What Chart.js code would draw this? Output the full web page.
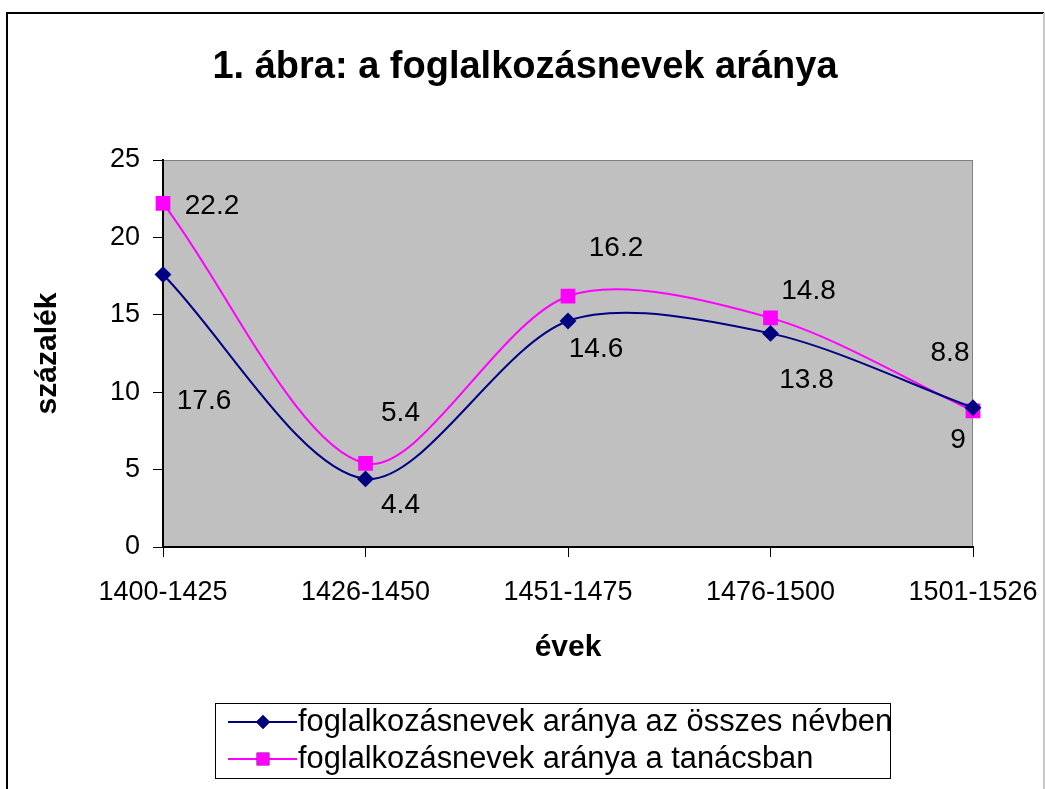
<!DOCTYPE html>
<html>
<head>
<meta charset="utf-8">
<script src="https://cdn.jsdelivr.net/npm/chart.js@4.4.1/dist/chart.umd.min.js"></script>
<style>
  html, body { margin: 0; padding: 0; background: #fff; }
  #wrap { width: 1045px; height: 789px; }
</style>
</head>
<body>
<div id="wrap"><canvas id="chart" width="1045" height="789"></canvas></div>
<script>
const years = ["1400-1425", "1426-1450", "1451-1475", "1476-1500", "1501-1526"];
const allNames = [17.6, 4.4, 14.6, 13.8, 9];
const council = [22.2, 5.4, 16.2, 14.8, 8.8];
const yTicks = [0, 5, 10, 15, 20, 25];
const chartTitle = '1. ábra: a foglalkozásnevek aránya';

// label offsets from each point (px), as placed in the original
const allNamesOffsets = [[41, 127], [35, 26], [28, 28], [36, 47], [-15, 33]];
const councilOffsets = [[49, 3], [35, -50], [48, -48], [38, -27], [-23, -57]];

const FONT = "'Liberation Sans', Arial, sans-serif";

const frame = {
    id: 'frame',
    beforeDraw(chart) {
        const { ctx, chartArea: a } = chart;
        ctx.save();
        ctx.fillStyle = '#c0c0c0';
        ctx.fillRect(a.left, a.top, a.right - a.left, a.bottom - a.top);
        ctx.strokeStyle = '#808080';
        ctx.lineWidth = 1;
        ctx.strokeRect(a.left + 0.5, a.top + 0.5, a.right - a.left - 1, a.bottom - a.top);
        ctx.restore();
    },
    afterDraw(chart) {
        const ctx = chart.ctx;
        ctx.save();
        // outer border
        ctx.strokeStyle = '#000';
        ctx.lineWidth = 2;
        ctx.beginPath();
        ctx.moveTo(7, 789);
        ctx.lineTo(7, 13);
        ctx.lineTo(1044, 13);
        ctx.stroke();
        ctx.strokeStyle = '#c8c8c8';
        ctx.beginPath();
        ctx.moveTo(1044, 13);
        ctx.lineTo(1044, 789);
        ctx.stroke();

        // title
        ctx.fillStyle = '#000';
        ctx.font = 'bold 38px ' + FONT;
        ctx.textAlign = 'center';
        ctx.textBaseline = 'middle';
        ctx.fillText(chartTitle, 525, 68);

        // legend
        const bx = 215, by = 703, bw = 675, bh = 75;
        ctx.strokeStyle = '#000';
        ctx.lineWidth = 1;
        ctx.strokeRect(bx + 0.5, by + 0.5, bw, bh);
        ctx.font = '30.8px ' + FONT;
        ctx.textBaseline = 'middle';
        ctx.textAlign = 'left';
        chart.data.datasets.forEach((ds, i) => {
            const y = by + 19 + i * 37;
            ctx.strokeStyle = ds.borderColor;
            ctx.lineWidth = 2;
            ctx.beginPath();
            ctx.moveTo(bx + 13, y);
            ctx.lineTo(bx + 82, y);
            ctx.stroke();
            Chart.helpers.drawPoint(ctx, {
                pointStyle: ds.pointStyle,
                radius: ds.pointRadius,
                rotation: 0
            }, bx + 48, y);
            ctx.fillStyle = ds.pointBackgroundColor;
            ctx.fill();
            ctx.fillStyle = '#000';
            ctx.fillText(ds.label, bx + 83, y + 1);
        });
        ctx.restore();
    }
};

const valueLabels = {
    id: 'valueLabels',
    afterDatasetsDraw(chart) {
        const ctx = chart.ctx;
        const offsets = [allNamesOffsets, councilOffsets];
        ctx.save();
        ctx.font = '28px ' + FONT;
        ctx.fillStyle = '#000';
        ctx.textAlign = 'center';
        ctx.textBaseline = 'middle';
        chart.data.datasets.forEach((ds, i) => {
            const meta = chart.getDatasetMeta(i);
            meta.data.forEach((pt, j) => {
                const o = offsets[i][j];
                ctx.fillText(String(ds.data[j]), pt.x + o[0], pt.y + o[1]);
            });
        });
        ctx.restore();
    }
};

new Chart(document.getElementById('chart'), {
    type: 'line',
    data: {
        labels: years,
        datasets: [{
            label: 'foglalkozásnevek aránya az összes névben',
            data: allNames,
            borderColor: '#000080',
            backgroundColor: '#000080',
            pointBackgroundColor: '#000080',
            pointBorderColor: '#000080',
            pointStyle: 'rectRot',
            pointRadius: 7,
            borderWidth: 2,
            tension: 0.3,
            fill: false
        }, {
            label: 'foglalkozásnevek aránya a tanácsban',
            data: council,
            borderColor: '#ff00ff',
            backgroundColor: '#ff00ff',
            pointBackgroundColor: '#ff00ff',
            pointBorderColor: '#ff00ff',
            pointStyle: 'rect',
            pointRadius: 9,
            borderWidth: 2,
            tension: 0.3,
            fill: false
        }]
    },
    options: {
        responsive: false,
        animation: false,
        layout: { padding: { left: 30, right: 72, top: 160, bottom: 123 } },
        plugins: {
            legend: { display: false },
            tooltip: { enabled: false },
            title: { display: false }
        },
        scales: {
            x: {
                offset: false,
                afterFit(scale) {
                    scale.height = 119;
                    scale.paddingLeft = 0;
                    scale.paddingRight = 0;
                },
                grid: {
                    offset: false,
                    drawOnChartArea: false,
                    drawTicks: true,
                    tickLength: 10,
                    tickColor: '#000'
                },
                border: { color: '#000', width: 2 },
                ticks: {
                    color: '#000',
                    font: { family: FONT, size: 27 },
                    padding: 19,
                    maxRotation: 0,
                    autoSkip: false
                },
                title: {
                    display: true,
                    text: 'évek',
                    color: '#000',
                    font: { family: FONT, size: 30, weight: 'bold' },
                    padding: 0
                }
            },
            y: {
                min: 0,
                max: 25,
                afterFit(scale) { scale.width = 133; },
                afterBuildTicks(scale) { scale.ticks = yTicks.map(v => ({ value: v })); },
                grid: {
                    drawOnChartArea: false,
                    drawTicks: true,
                    tickLength: 10,
                    tickColor: '#000'
                },
                border: { color: '#000', width: 2 },
                ticks: {
                    color: '#000',
                    font: { family: FONT, size: 27 },
                    padding: 13
                },
                title: {
                    display: true,
                    text: 'százalék',
                    color: '#000',
                    font: { family: FONT, size: 30, weight: 'bold' },
                    padding: 0
                }
            }
        }
    },
    plugins: [frame, valueLabels]
});
</script>
</body>
</html>
